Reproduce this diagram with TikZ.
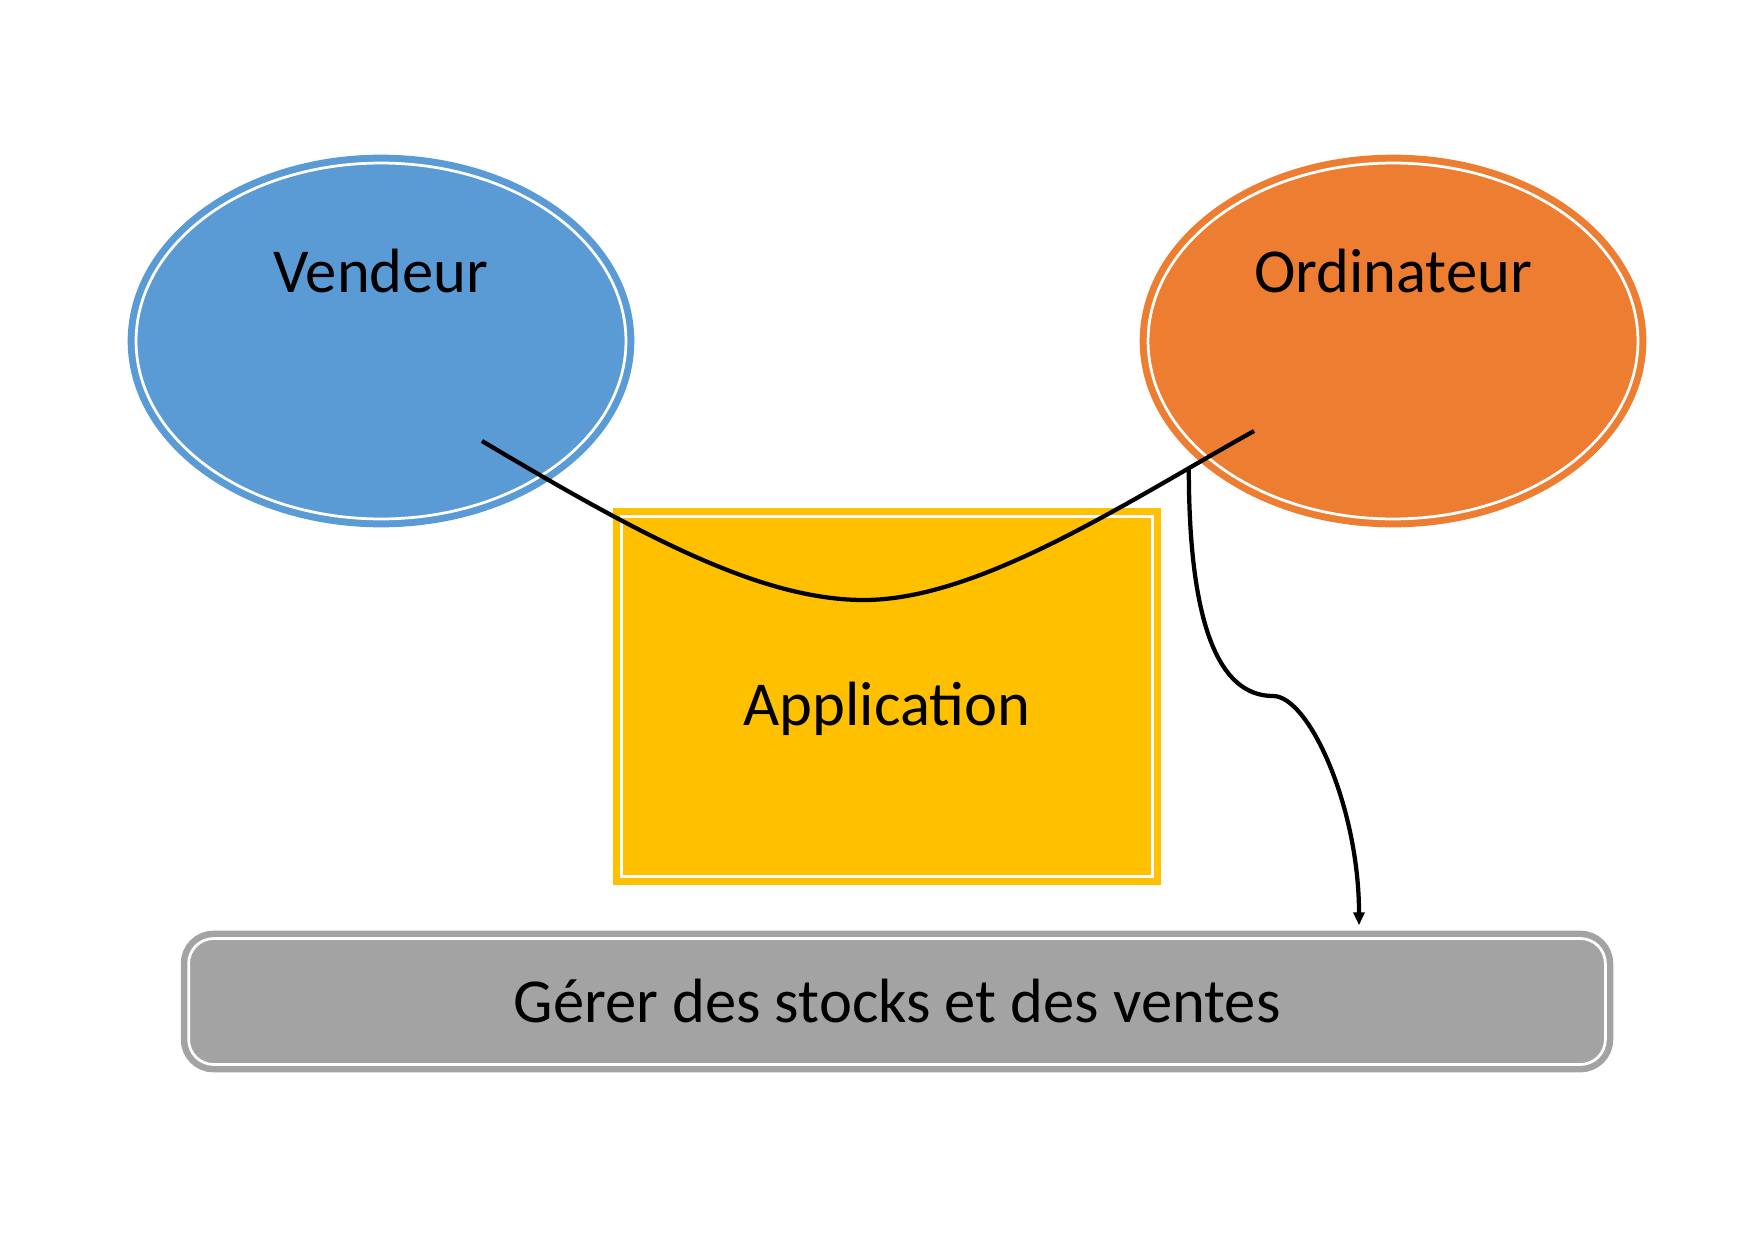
\documentclass[tikz,border=0pt]{standalone}
\usepackage{fontspec}
\setmainfont{Carlito}
\usepackage{tikz}
\usetikzlibrary{arrows.meta, positioning, shapes.geometric, calc}
\usepackage{xcolor}
\definecolor{vendblue}{HTML}{5B9BD5}
\definecolor{ordiorange}{HTML}{ED7D31}
\definecolor{appyellow}{HTML}{FFC000}
\definecolor{taskgray}{HTML}{A3A3A3}
\newcommand{\bigtxt}{\fontsize{35.6}{43}\selectfont}

\begin{document}
\begin{tikzpicture}[x=0.02cm, y=-0.02cm,
  actor/.style={ellipse, draw=#1, fill=#1, line width=0.14cm, double=white,
                double distance=0.055cm, minimum width=9.8cm, minimum height=7.12cm,
                inner sep=0pt},
  appbox/.style={draw=appyellow, fill=appyellow, line width=0.14cm, double=white,
                 double distance=0.055cm, minimum width=10.62cm, minimum height=7.2cm,
                 inner sep=0pt, font=\bigtxt, text height=32.5pt, text depth=0pt},
  taskbox/.style={draw=taskgray, fill=taskgray, rounded corners=0.5cm, line width=0.13cm,
                  double=white, double distance=0.055cm, minimum width=28.34cm,
                  minimum height=2.52cm, inner sep=0pt, font=\bigtxt},
  link/.style={line width=0.085cm, black}]

  \useasboundingbox (0,0) rectangle (1754,1240);

  \node[actor=vendblue]   (vendeur) at (381,341)
    {} node[font=\bigtxt] (vendeur-txt) at ($(vendeur.center)+(0,-70)$) {Vendeur};
  \node[actor=ordiorange] (ordi)    at (1393,341)
    {} node[font=\bigtxt] (ordi-txt) at ($(ordi.center)+(0,-70)$) {Ordinateur};
  \node[appbox]  (app)  at (887,696.5) {Application};
  \node[taskbox] (task) at (897,1001.5) {Gérer des stocks et des ventes};

  \coordinate (vend-end) at ($(vendeur.center)+(101,100)$);
  \coordinate (ordi-end) at ($(ordi.center)+(-139,90)$);
  \coordinate (dip)      at (864,600);
  \coordinate (bend)     at (1273,696);
  \coordinate (tip)      at ($(task.north)+(462,-10)$);

  \draw[link] (vend-end) .. controls (640,535) and (760,600) .. (dip)
              .. controls (980,600) and (1130,500) .. (ordi-end)
              coordinate[pos=0.83] (fork);
  \draw[link, -{Triangle[length=0.26cm, width=0.22cm]}]
        (fork) .. controls +(0,157) and +(-54,0) .. (bend)
               .. controls +(36,0) and +(0,-118) .. (tip);
\end{tikzpicture}
\end{document}
